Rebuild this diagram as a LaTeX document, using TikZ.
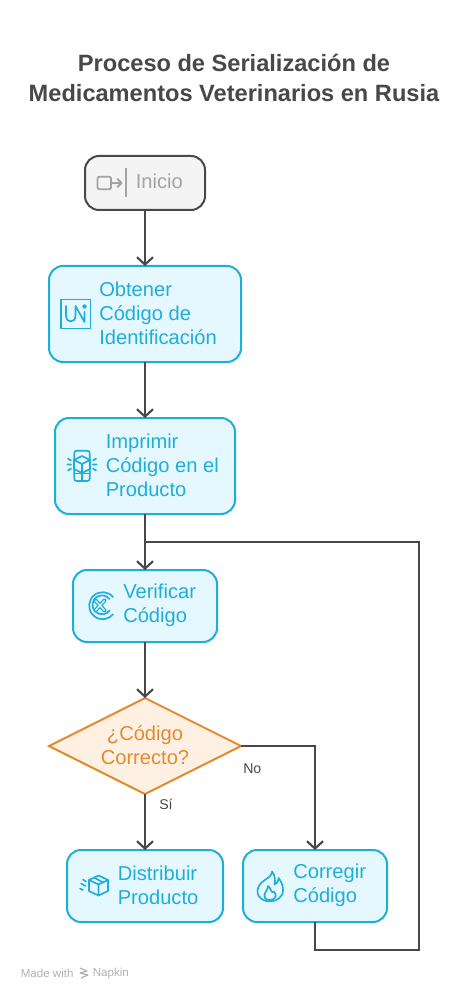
\documentclass[tikz,border=0pt]{standalone}
\usepackage{fontspec}
\setmainfont{Liberation Sans}
\usetikzlibrary{arrows.meta,shapes.geometric}
\definecolor{blu}{HTML}{1EAEDB}
\definecolor{blufill}{HTML}{E6F8FF}
\definecolor{org}{HTML}{E48A2E}
\definecolor{orgfill}{HTML}{FEF1E4}
\definecolor{dark}{HTML}{484848}
\definecolor{gry}{HTML}{A3A3A3}
\definecolor{gryfill}{HTML}{F4F4F4}
\tikzset{
 x=0.75pt,y=-0.75pt,
 boxbase/.style={rounded corners=10.5pt,line width=1.5pt,inner sep=0,outer sep=0,anchor=north west},
 bluebox/.style={boxbase,draw=blu,fill=blufill},
 greybox/.style={boxbase,draw=dark,fill=gryfill},
 txt/.style={anchor=west,align=left,inner sep=0,font=\fontsize{15.1}{18}\selectfont,text=blu},
 link/.style={draw=dark,line width=1.6pt},
 arrowlink/.style={link,-{Straight Barb[length=5.5pt,width=12pt,line width=1.6pt]}},
 icon/.style={draw=blu,line width=1.25pt,line cap=round,line join=round},
 lab/.style={inner sep=0,font=\fontsize{10.6}{12}\selectfont,text=dark},
}
\begin{document}
\begin{tikzpicture}
\useasboundingbox (0,0) rectangle (468,998);
\fill[white] (0,0) rectangle (468,998);
\node[inner sep=0,align=center,font=\fontsize{17.7}{22.5}\bfseries\selectfont,text=dark] (title) at (234,78) {Proceso de Serialización de\\Medicamentos Veterinarios en Rusia};
% boxes
\node[greybox,minimum width=90pt,minimum height=40.5pt] (ini) at (85,156) {};
\node[bluebox,minimum width=144pt,minimum height=72pt] (obt) at (49,266) {};
\node[bluebox,minimum width=135pt,minimum height=72pt] (imp) at (55,418) {};
\node[bluebox,minimum width=108pt,minimum height=54pt] (ver) at (73,570) {};
\node[diamond,draw=org,fill=orgfill,line width=1.5pt,inner sep=0,outer sep=0,minimum width=144pt,minimum height=72pt] (dec) at (145,746) {};
\node[bluebox,minimum width=117pt,minimum height=54pt] (dis) at (67,850) {};
\node[bluebox,minimum width=108pt,minimum height=54pt] (cor) at (243,850) {};
% texts
\node[txt,text=gry] (tini) at (135.5,181.5) {Inicio};
\node[txt] (tobt) at (99,313.3) {Obtener\\Código de\\Identificación};
\node[txt] (timp) at (105.5,465.3) {Imprimir\\Código en el\\Producto};
\node[txt] (tver) at (123,605.3) {Verificar\\Código};
\node[inner sep=0,align=center,font=\fontsize{15.1}{18}\selectfont,text=org] (tdec) at (145,745.3) {¿Código\\Correcto?};
\node[txt] (tdis) at (117.5,885.3) {Distribuir\\Producto};
\node[txt] (tcor) at (293,885.3) {Corregir\\Código};
% connectors
\coordinate (merge) at (145,542);
\coordinate (c1) at (315,950);
\coordinate (c2) at (419,950);
\coordinate (c3) at (419,542);
\coordinate (c4) at (315,746);
\draw[arrowlink] (ini.south) -- (obt.north);
\draw[arrowlink] (obt.south) -- (imp.north);
\draw[arrowlink] (imp.south) -- (ver.north);
\draw[arrowlink] (ver.south) -- (dec.north);
\draw[arrowlink] (dec.south) -- (dis.north);
\draw[arrowlink] (dec.east) -- (c4) -- (cor.north);
\draw[link] (cor.south) -- (c1) -- (c2) -- (c3) -- (merge);
\node[lab,anchor=west] (no) at (243,769) {No};
\node[lab,anchor=west] (si) at (159,804) {Sí};
% icon Inicio
\draw[draw=gry,line width=1.4pt,rounded corners=1.5pt] (97.5,176.7) rectangle (111,189.3);
\draw[draw=gry,line width=1.4pt,line cap=round,line join=round] (111,183) -- (121.5,183) (117.5,179) -- (121.5,183) -- (117.5,187);
\draw[draw=gry,line width=1.4pt] (125.7,168.5) -- (125.7,197.5);
% icon UNi
\draw[icon,line cap=butt,line width=1.4pt] (61.3,299.5) rectangle (90.5,328.5);
\draw[icon] (66,306) -- (66,315.5) .. controls (66,323.5) and (75.5,323.5) .. (75.5,315.5) -- (75.5,306) -- (84.5,322) -- (84.5,312);
\fill[blu] (84.5,306.5) circle (2.2);
% icon print
\draw[icon] (74.2,454) .. controls (74.2,451) and (75,450.8) .. (77,450.8) -- (87,450.8) .. controls (89,450.8) and (89.8,451) .. (89.8,454) -- (89.8,478) .. controls (89.8,480.5) and (89,481) .. (87,481) -- (77,481) .. controls (75,481) and (74.2,480.5) .. (74.2,478) -- cycle;
\draw[icon] (74.2,473.5) -- (89.8,473.5) (82,473.5) -- (82,481);
\draw[icon,fill=blufill] (82,456) -- (90,460) -- (90,469) -- (82,473) -- (74,469) -- (74,460) -- cycle;
\draw[icon] (74,460) -- (82,464) -- (90,460) (82,464) -- (82,473);
\draw[icon] (68,458.5) -- (71,460.5) (67.5,464.5) -- (71,464.5) (68,470.5) -- (71,468.5) (96,458.5) -- (93,460.5) (96.5,464.5) -- (93,464.5) (96,470.5) -- (93,468.5);
% icon verify
\draw[icon] (113,597) arc[start angle=-40,end angle=-320,radius=13.5];
\draw[icon] (109.5,599) arc[start angle=-38,end angle=-322,radius=9.5];
\draw[icon,line width=3pt] (95.5,600.5) -- (104.5,610.5) (104.5,600.5) -- (95.5,610.5);
\draw[draw=blufill,line width=1pt] (95.5,600.5) -- (104.5,610.5) (104.5,600.5) -- (95.5,610.5);
% icon box
\draw[icon] (98.5,875.5) -- (108,880) -- (108,891) -- (98.5,895.5) -- (89,891) -- (89,880) -- cycle;
\draw[icon] (89,880) -- (98.5,884.5) -- (108,880) (98.5,884.5) -- (98.5,895.5);
\draw[icon] (94,877.5) -- (103,882.5);
\draw[icon] (83,879.5) -- (86,881.5) (81,883.5) -- (85.5,886) (80,888.5) -- (83,890);
% icon flame
\draw[icon] (272,871.5) .. controls (272,879) and (258,880) .. (257.5,891) .. controls (257,905) and (283,905) .. (283,890) .. controls (283,885) and (281,881) .. (278.5,878) .. controls (278.5,882) and (276,884) .. (274.5,884.5) .. controls (275.5,880) and (275,875) .. (272,871.5) -- cycle;
\draw[icon] (268,886) .. controls (268.5,890) and (262.5,893) .. (265,898) .. controls (266,900.5) and (274,901) .. (275.5,897) .. controls (276.5,893.5) and (273.5,890.5) .. (272.5,892) .. controls (271.5,893) and (271,888) .. (268,886) -- cycle;
% footer
\node[inner sep=0,anchor=west,font=\fontsize{8.7}{10}\selectfont,text=black!30] (made) at (20.5,973) {Made with};
\node[inner sep=0,anchor=west,font=\fontsize{8.7}{10}\selectfont,text=black!30] (nap) at (92.5,973) {Napkin};
\draw[draw=black!30,line width=0.9pt,line join=round] (80,968) -- (87,971) -- (80,973) -- (88,975) -- (81,978);
\end{tikzpicture}
\end{document}
